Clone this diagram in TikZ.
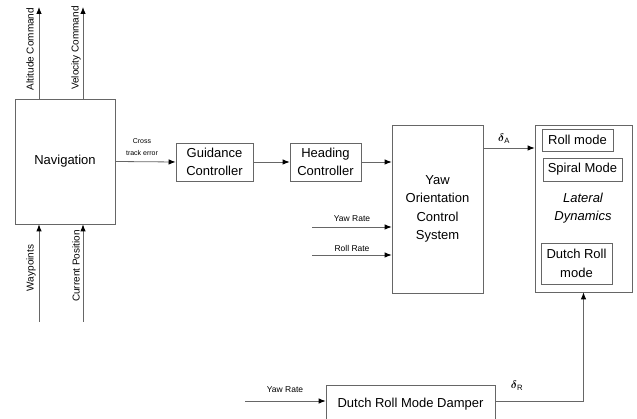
\documentclass[tikz,border=0pt]{standalone}
\usepackage{fontspec}
\setmainfont{Liberation Sans}
\usetikzlibrary{arrows.meta}
\definecolor{linegray}{gray}{0.4}
\begin{document}
\begin{tikzpicture}[x=1pt,y=-1pt,
  box/.style={draw=linegray,line width=0.8pt,inner sep=0pt,align=center,
    font=\fontsize{13}{18.5}\selectfont},
  arr/.style={draw=linegray,line width=0.8pt,-{Latex[length=7pt,width=5.5pt,color=black]}},
  wire/.style={draw=linegray,line width=0.8pt},
  lbl/.style={font=\fontsize{8.5}{10}\selectfont,inner sep=0pt},
  rlbl/.style={font=\fontsize{10}{12}\selectfont,inner sep=0pt,rotate=90},
  dlbl/.style={font=\fontsize{11}{12}\selectfont,inner sep=0pt}]
\useasboundingbox (0,0) rectangle (637,419);
\clip (0,0) rectangle (637,419);
% boxes
\node[box,minimum width=100pt,minimum height=125pt] (nav) at (65,161.5) {Navigation};
\node[box,minimum width=77pt,minimum height=38pt] (guid) at (214.5,162) {Guidance\\Controller};
\node[box,minimum width=71pt,minimum height=38pt] (head) at (325.5,162) {Heading\\Controller};
\node[box,minimum width=91pt,minimum height=168pt] (yaw) at (437.5,209) {Yaw\\Orientation\\Control\\System};
\node[box,minimum width=97pt,minimum height=167pt] (lat) at (583.5,208.5) {};
\node[box,minimum width=71pt,minimum height=22pt] (roll) at (577.5,140) {Roll mode};
\node[box,minimum width=79pt,minimum height=23pt] (spiral) at (582.5,169.5) {Spiral Mode};
\node[align=center,inner sep=0pt,font=\fontsize{13}{18.5}\selectfont\itshape] (latlbl) at (583,208) {Lateral\\Dynamics};
\node[box,minimum width=71pt,minimum height=41pt] (dutch) at (576.5,263.5) {Dutch Roll\\mode};
\node[box,minimum width=169pt,minimum height=38pt] (damper) at (410.5,404) {Dutch Roll Mode Damper};
% navigation outputs
\coordinate (altend) at (39,7);
\coordinate (velend) at (83,7);
\draw[arr] (nav.north -| altend) -- (altend);
\draw[arr] (nav.north -| velend) -- (velend);
\node[rlbl] (altlbl) at (30,49) {Altitude Command};
\node[rlbl] (vellbl) at (76,48) {Velocity Command};
% navigation inputs
\coordinate (wpstart) at (39,322);
\coordinate (cpstart) at (83,322);
\draw[arr] (wpstart) -- (wpstart |- nav.south);
\draw[arr] (cpstart) -- (cpstart |- nav.south);
\node[rlbl] (wplbl) at (31,268) {Waypoints};
\node[rlbl] (cplbl) at (76,266) {Current Position};
% main chain
\draw[arr] (nav.east) -- (guid.west);
\node[align=center,inner sep=0pt,font=\fontsize{7}{12}\selectfont] (ctlbl) at (142,147) {Cross\\track error};
\draw[arr] (guid.east) -- (head.west);
\draw[arr] (head.east) -- (head.east -| yaw.west);
% yaw/roll rate
\coordinate (yr) at (312,227);
\coordinate (rr) at (312,255);
\draw[arr] (yr) -- (yr -| yaw.west);
\draw[arr] (rr) -- (rr -| yaw.west);
\node[lbl] (yrlbl) at (352,219) {Yaw Rate};
\node[lbl] (rrlbl) at (352,248) {Roll Rate};
% delta A
\coordinate (da) at (483,148);
\draw[arr] (da) -- (da -| lat.west);
\node[dlbl] (dalbl) at (504,139) {{\boldmath$\delta$}$_{\mathrm{A}}$};
% damper
\coordinate (dyr) at (245,401);
\draw[arr] (dyr) -- (dyr -| damper.west);
\node[lbl] (dyrlbl) at (285,390) {Yaw Rate};
\coordinate (dr) at (495,401);
\draw[arr] (dr) -| (lat.south);
\node[dlbl] (drlbl) at (517,386) {{\boldmath$\delta$}$_{\mathrm{R}}$};
\end{tikzpicture}
\end{document}
